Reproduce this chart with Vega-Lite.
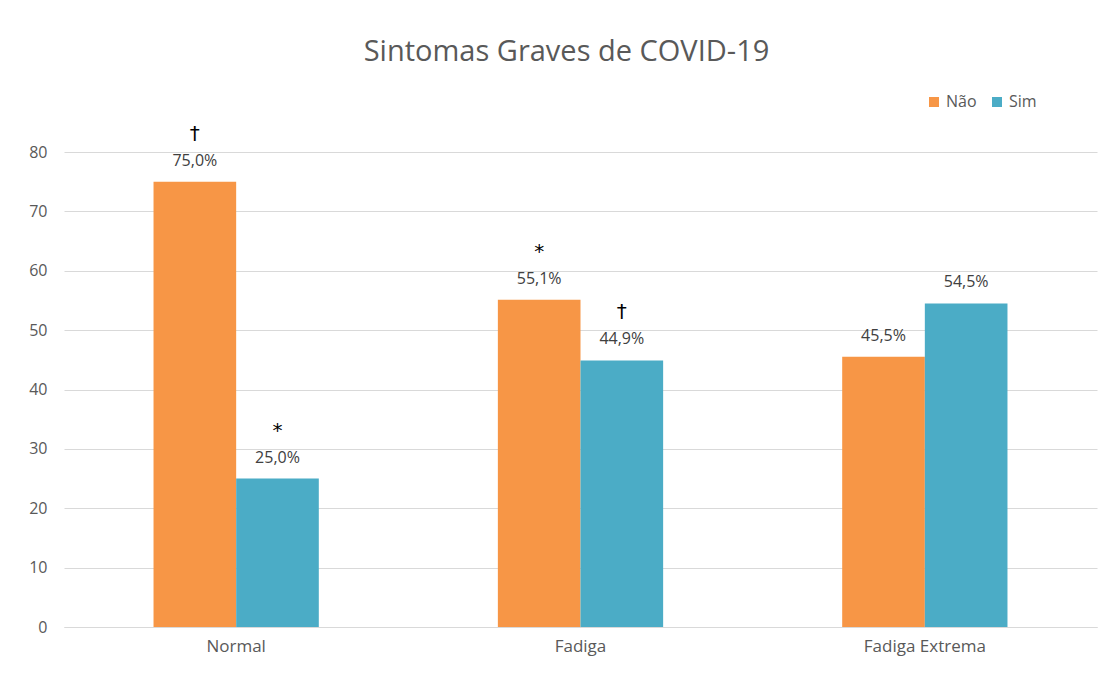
{
  "$schema": "https://vega.github.io/schema/vega-lite/v6.json",
  "width": 1033,
  "height": 475,
  "autosize": {"type": "none"},
  "padding": {"left": 64, "top": 152, "right": 21, "bottom": 46},
  "background": "white",
  "title": {
    "text": "Sintomas Graves de COVID-19",
    "font": "Open Sans",
    "fontSize": 29,
    "fontWeight": "normal",
    "color": "#595959",
    "anchor": "middle",
    "dx": -14,
    "offset": 27
  },
  "config": {
    "view": {"stroke": null},
    "font": "Open Sans"
  },
  "data": {
    "values": [
      {"grupo": "Normal", "resposta": "Não", "valor": 75.0, "rotulo": "75,0%", "sinal": "†"},
      {"grupo": "Normal", "resposta": "Sim", "valor": 25.0, "rotulo": "25,0%", "sinal": "*"},
      {"grupo": "Fadiga", "resposta": "Não", "valor": 55.1, "rotulo": "55,1%", "sinal": "*"},
      {"grupo": "Fadiga", "resposta": "Sim", "valor": 44.9, "rotulo": "44,9%", "sinal": "†"},
      {"grupo": "Fadiga Extrema", "resposta": "Não", "valor": 45.5, "rotulo": "45,5%", "sinal": ""},
      {"grupo": "Fadiga Extrema", "resposta": "Sim", "valor": 54.5, "rotulo": "54,5%", "sinal": ""}
    ]
  },
  "encoding": {
    "x": {
      "field": "grupo",
      "type": "nominal",
      "sort": ["Normal", "Fadiga", "Fadiga Extrema"],
      "scale": {"paddingInner": 0.52, "paddingOuter": 0.26},
      "axis": {
        "title": null,
        "labelAngle": 0,
        "labelFont": "Open Sans",
        "labelFontSize": 17,
        "labelColor": "#595959",
        "labelPadding": 11,
        "ticks": false,
        "domainColor": "#d9d9d9",
        "domainWidth": 1
      }
    },
    "xOffset": {"field": "resposta", "type": "nominal", "sort": ["Não", "Sim"], "scale": {"paddingInner": 0, "paddingOuter": 0}},
    "y": {
      "field": "valor",
      "type": "quantitative",
      "scale": {"domain": [0, 80], "nice": false},
      "axis": {
        "title": null,
        "values": [0, 10, 20, 30, 40, 50, 60, 70, 80],
        "labelFont": "Open Sans",
        "labelFontSize": 16,
        "labelColor": "#595959",
        "labelPadding": 17,
        "ticks": false,
        "domain": false,
        "gridColor": "#d9d9d9",
        "gridWidth": 1
      }
    }
  },
  "layer": [
    {
      "mark": {"type": "bar"},
      "encoding": {
        "color": {
          "field": "resposta",
          "type": "nominal",
          "sort": ["Não", "Sim"],
          "scale": {"domain": ["Não", "Sim"], "range": ["#F79646", "#4BACC6"]},
          "legend": {
            "title": null,
            "orient": "none",
            "legendX": 862,
            "legendY": -58,
            "direction": "horizontal",
            "symbolType": "square",
            "symbolSize": 100,
            "symbolStrokeWidth": 0,
            "labelFont": "Open Sans",
            "labelFontSize": 16,
            "labelColor": "#595959",
            "columnPadding": 12,
            "labelOffset": 4
          }
        }
      }
    },
    {
      "mark": {"type": "text", "baseline": "bottom", "dy": -13, "fontSize": 16, "color": "#404040", "font": "Open Sans"},
      "encoding": {"text": {"field": "rotulo"}}
    },
    {
      "mark": {"type": "text", "baseline": "bottom", "dy": -38, "fontSize": 20, "color": "#000000", "font": "DejaVu Sans"},
      "encoding": {"text": {"field": "sinal"}}
    }
  ]
}
